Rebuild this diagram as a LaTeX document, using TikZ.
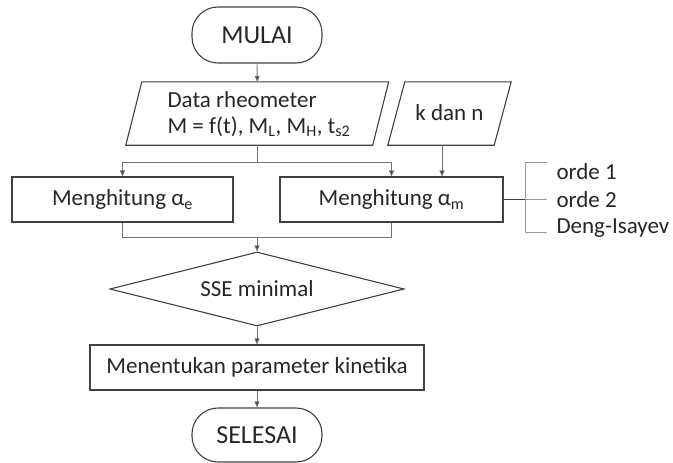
\documentclass[tikz,border=0pt]{standalone}
\usepackage{fontspec}
\setmainfont{Carlito}
\usetikzlibrary{shapes.geometric,arrows.meta}
\begin{document}
\begin{tikzpicture}[x=1pt,y=-1pt,
  every node/.style={text=black!85,font=\fontsize{23}{26}\selectfont},
  shp/.style={draw=black!75,line width=1.1pt},
  term/.style={shp,rectangle,rounded corners=26pt,minimum width=130pt,minimum height=56pt,inner sep=0pt,font=\fontsize{26}{30}\selectfont},
  procbox/.style={shp,rectangle,minimum height=45pt,inner sep=0pt},
  iobox/.style={rectangle,minimum height=63pt,inner sep=0pt},
  con/.style={draw=black!55,line width=0.9pt},
  arr/.style={con,-{Triangle[length=6pt,width=5pt,fill=black!80]}},
  brk/.style={draw=black!40,line width=0.9pt}]
\useasboundingbox (0,0) rectangle (673,463);
% terminals
\node[term] (mulai) at (257,35) {MULAI};
% input data
\node[iobox,minimum width=246.5pt] (data) at (257.25,113.5) {};
\draw[shp] ([xshift=-8pt]data.south west) -- ([xshift=8pt]data.north west)
  -- ([xshift=8pt]data.north east) -- ([xshift=-8pt]data.south east) -- cycle;
\node[align=left,font=\fontsize{23}{26}\selectfont] (datatxt) at (259,114) {Data rheometer\\M = f(t), M\textsubscript{L}, M\textsubscript{H}, t\textsubscript{s2}};
\node[iobox,minimum width=106pt] (kdn) at (449.5,113.5) {};
\draw[shp] ([xshift=-8.5pt]kdn.south west) -- ([xshift=8.5pt]kdn.north west)
  -- ([xshift=8.5pt]kdn.north east) -- ([xshift=-8.5pt]kdn.south east) -- cycle;
\node (kdntxt) at (449.5,113) {k dan n};
% process boxes
\node[procbox,minimum width=221pt] (ae) at (122.5,199.5) {Menghitung α\textsubscript{e}};
\node[procbox,minimum width=223pt] (am) at (391.5,199.5) {Menghitung α\textsubscript{m}};
\node[shp,diamond,aspect=4,minimum width=294pt,minimum height=74pt,inner sep=0pt] (sse) at (257,289) {SSE minimal};
\node[procbox,minimum width=334pt] (param) at (257,367.5) {Menentukan parameter kinetika};
\node[term,minimum height=54pt] (selesai) at (257,435) {SELESAI};
% connectors
\draw[arr] (mulai.south) -- (data.north);
\draw[con] (data.south) -- ++(0,17) coordinate (split);
\draw[arr] (split) -| (ae.north);
\draw[arr] (split) -| (am.north);
\draw[arr] ([xshift=-7.5pt]kdn.south) -- ([xshift=-7.5pt]kdn.south |- am.north);
\draw[con] (ae.south) -- ++(0,15) coordinate (mergeL) -| (am.south);
\coordinate (merge) at (mergeL -| sse.north);
\draw[arr] (merge) -- (sse.north);
\draw[arr] (sse.south) -- (param.north);
\draw[arr] (param.south) -- (selesai.north);
% bracket
\coordinate (bk) at (525,199.5);
\draw[con,draw=black!75] (am.east) -- (bk);
\draw[brk] (547,162) -- (525,162) -- (525,232) -- (547,232);
\draw[brk] (bk) -- (547,199.5);
\node[anchor=west] (o1) at (553,172) {orde 1};
\node[anchor=west] (o2) at (553,200) {orde 2};
\node[anchor=west] (di) at (553,228) {Deng-Isayev};
\end{tikzpicture}
\end{document}
